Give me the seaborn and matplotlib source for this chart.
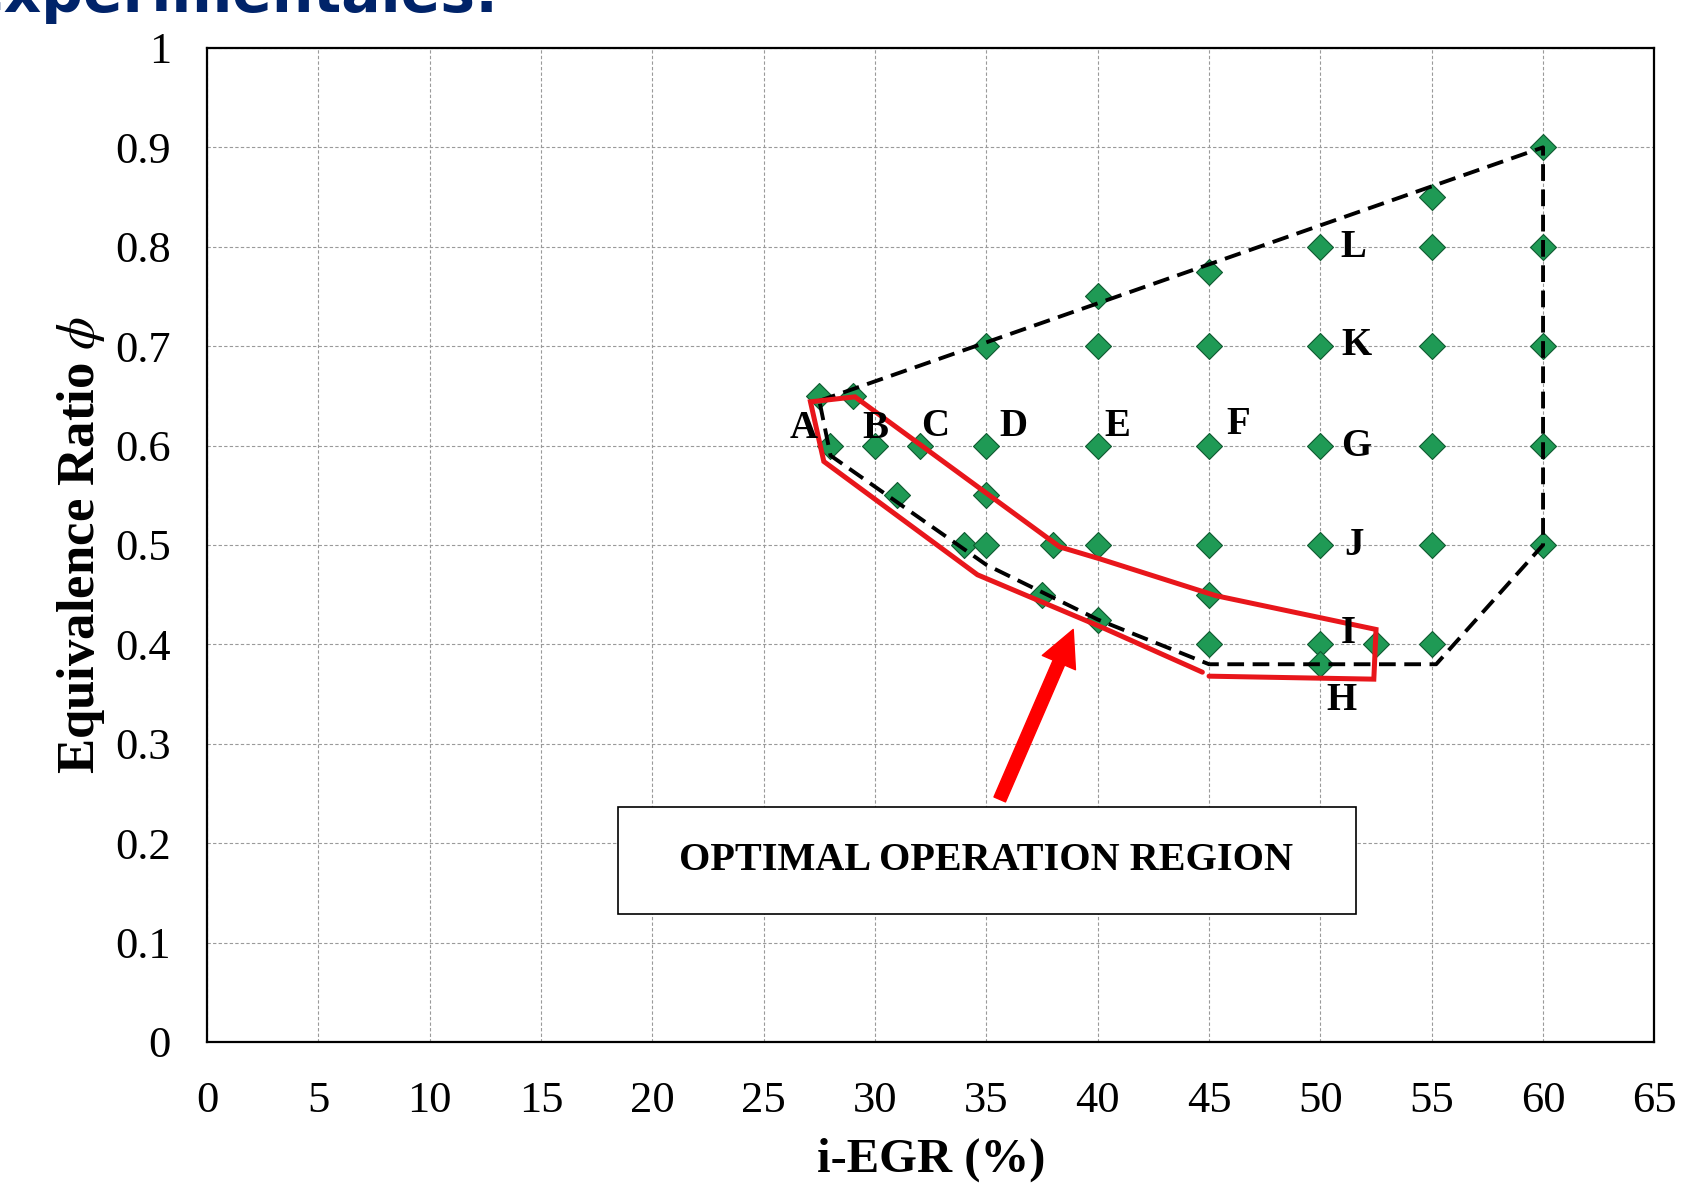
import numpy as np
import pandas as pd
import matplotlib
matplotlib.use("Agg")
import matplotlib.pyplot as plt
import seaborn as sns
from matplotlib.patches import Rectangle

# puntos experimentales (i-EGR %, dosado relativo)
egr = [27.5, 29, 28, 30, 32, 35, 40, 45, 50, 55, 60,
       31, 35,
       34, 35, 38, 40, 45, 50, 55, 60,
       37.5, 45, 40,
       45, 50, 52.5, 55, 50,
       35, 40, 40, 45, 45, 50, 50, 55, 55, 55, 60, 60, 60]
phi = [0.65, 0.65, 0.60, 0.60, 0.60, 0.60, 0.60, 0.60, 0.60, 0.60, 0.60,
       0.55, 0.55,
       0.50, 0.50, 0.50, 0.50, 0.50, 0.50, 0.50, 0.50,
       0.45, 0.45, 0.425,
       0.40, 0.40, 0.40, 0.40, 0.38,
       0.70, 0.75, 0.70, 0.775, 0.70, 0.80, 0.70, 0.85, 0.80, 0.70, 0.90, 0.80, 0.70]

# limite de operacion (linea discontinua negra)
lim_x = [27.5, 60, 60, 55.2, 45, 40, 35, 28, 27.5]
lim_y = [0.645, 0.90, 0.50, 0.38, 0.38, 0.425, 0.48, 0.59, 0.645]

# region optima (linea roja)
opt_x = [45.0, 52.4, 52.5, 45.3, 40.1, 38.3, 29.1, 27.1, 27.7, 34.6, 40.1, 44.7]
opt_y = [0.368, 0.365, 0.415, 0.449, 0.486, 0.498, 0.649, 0.644, 0.584, 0.470, 0.418, 0.372]

# etiquetas de los puntos
letras = ["A", "B", "C", "D", "E", "F", "G", "K", "L", "J", "I", "H"]
letras_x = [26.8, 30.0, 32.7, 36.2, 40.9, 46.3, 51.6, 51.6, 51.5, 51.5, 51.25, 50.95]
letras_y = [0.617, 0.617, 0.619, 0.619, 0.619, 0.621, 0.599, 0.701, 0.799, 0.499, 0.411, 0.344]

df = pd.DataFrame({"egr": egr, "phi": phi})

sns.set_style("white")
plt.rcParams["font.family"] = ["Liberation Serif", "DejaVu Serif"]
plt.rcParams["mathtext.fontset"] = "stix"
plt.rcParams["text.color"] = "black"
plt.rcParams["axes.labelcolor"] = "black"
plt.rcParams["xtick.color"] = "black"
plt.rcParams["ytick.color"] = "black"

fig = plt.figure(figsize=(16.83, 11.90), dpi=100)
ax = fig.add_axes([0.123, 0.1244, 0.860, 0.8353])

ax.grid(True, color="#9a9a9a", linestyle=(0, (3, 2)), linewidth=0.8)
ax.set_axisbelow(True)

ax.plot(lim_x, lim_y, color="black", linewidth=2.8, dashes=(4.3, 2.2), zorder=3)
ax.plot(opt_x, opt_y, color="#e8161b", linewidth=3.6, zorder=4,
        solid_joinstyle="miter")

sns.scatterplot(data=df, x="egr", y="phi", marker="D", s=175, color="#1f9a55",
                edgecolor="#0f5a30", linewidth=0.8, zorder=2, ax=ax)

for t, xx, yy in zip(letras, letras_x, letras_y):
    ax.text(xx, yy, t, fontsize=28, fontweight="bold", ha="center", va="center",
            zorder=6)

# flecha y cuadro de texto
ax.annotate("", xy=(38.9, 0.415), xytext=(35.6, 0.244),
            arrowprops=dict(facecolor="#ff0000", edgecolor="#ff0000",
                            width=9, headwidth=26, headlength=26),
            zorder=5)
caja = Rectangle((18.45, 0.1285), 33.15, 0.108, facecolor="white",
                 edgecolor="black", linewidth=1.2, zorder=7)
ax.add_patch(caja)
ax.text(35.0, 0.183, "OPTIMAL OPERATION REGION", fontsize=29, fontweight="bold",
        ha="center", va="center", zorder=8)

ax.set_xlim(0, 65)
ax.set_ylim(0, 1)
ax.set_xticks(np.arange(0, 66, 5))
ax.set_yticks(np.arange(0, 1.01, 0.1))
ax.set_yticklabels(["0", "0.1", "0.2", "0.3", "0.4", "0.5", "0.6", "0.7", "0.8", "0.9", "1"])
ax.tick_params(axis="both", length=0, labelsize=32)
ax.tick_params(axis="x", pad=28)
ax.tick_params(axis="y", pad=26)

ax.set_xlabel("i-EGR (%)", fontsize=35, fontweight="bold", labelpad=12)
ax.set_ylabel(r"Equivalence Ratio $\phi$", fontsize=38, fontweight="bold", labelpad=6)

for s in ax.spines.values():
    s.set_color("black")
    s.set_linewidth(1.6)

# titulo cortado de la diapositiva
fig.text(-0.021, 0.99, "experimentales:", fontsize=42, fontweight="bold",
         color="#002369", family="DejaVu Sans", va="baseline", ha="left")

fig.savefig("out.png", dpi=100)
